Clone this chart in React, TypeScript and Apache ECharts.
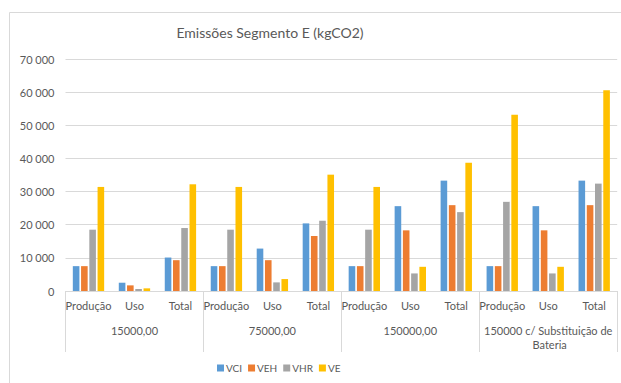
import React, { useEffect, useRef } from "react";
import * as echarts from "echarts";

// Distance scenarios (km) and the life-cycle stages shown inside each one
const scenarios = ["15000,00", "75000,00", "150000,00", "150000 c/ Substituição de Bateria"];
const stages = ["Produção", "Uso", "Total"];

// Emissions in kgCO2, ordered scenario by scenario, stage by stage
const vci = [7500, 2500, 10100, 7500, 12800, 20400, 7500, 25600, 33300, 7500, 25600, 33300];
const veh = [7500, 1700, 9300, 7500, 9300, 16600, 7500, 18300, 25900, 7500, 18300, 25900];
const vhr = [18500, 600, 19000, 18500, 2600, 21200, 18500, 5300, 23800, 26900, 5300, 32400];
const ve = [31400, 800, 32200, 31400, 3600, 35100, 31400, 7300, 38700, 53200, 7300, 60600];

const seriesNames = ["VCI", "VEH", "VHR", "VE"];
const seriesColors = ["#5B9BD5", "#ED7D31", "#A5A5A5", "#FFC000"];

const yTicks = { min: 0, max: 70000, interval: 10000 };

const FONT = "Lato, 'Liberation Sans', sans-serif";
const TEXT = "#595959";
const LINE = "#D9D9D9";

function fmt(v: number): string {
  return String(v).replace(/\B(?=(\d{3})+(?!\d))/g, " ");
}

export default function App() {
  const ref = useRef<HTMLDivElement>(null);

  useEffect(() => {
    if (!ref.current) return;
    const chart = echarts.init(ref.current, undefined, { renderer: "svg" });
    const xCats: string[] = [];
    scenarios.forEach(() => stages.forEach((s) => xCats.push(s)));
    const values = [vci, veh, vhr, ve];

    chart.setOption({
      animation: false,
      backgroundColor: "#fff",
      textStyle: { fontFamily: FONT },
      title: {
        text: "Emissões Segmento E (kgCO2)",
        left: 265,
        textAlign: "center",
        top: 20,
        textStyle: { fontFamily: FONT, fontSize: 14, fontWeight: "normal", color: TEXT },
      },
      graphic: [
        {
          type: "rect",
          shape: { x: 9.5, y: 12.5, width: 700, height: 420 },
          style: { fill: "none", stroke: LINE, lineWidth: 1 },
          silent: true,
        },
      ],
      legend: {
        data: seriesNames,
        left: 212,
        top: 358,
        itemWidth: 7,
        itemHeight: 7,
        itemGap: 6,
        icon: "rect",
        textStyle: { fontFamily: FONT, fontSize: 10, color: TEXT, padding: [0, 0, 0, -3] },
      },
      grid: { left: 65.5, right: 2, top: 59, bottom: 92, containLabel: false },
      xAxis: [
        {
          type: "category",
          data: xCats,
          position: "bottom",
          axisLine: { show: true, lineStyle: { color: LINE } },
          axisTick: { show: false },
          axisLabel: { interval: 0, margin: 9, fontFamily: FONT, fontSize: 11, color: TEXT },
        },
        {
          type: "category",
          data: scenarios,
          position: "bottom",
          axisLine: { show: false },
          axisTick: { show: true, length: 61, interval: 0, lineStyle: { color: LINE } },
          axisLabel: {
            interval: 0,
            margin: 32,
            fontFamily: FONT,
            fontSize: 11,
            color: TEXT,
            width: 140,
            overflow: "break",
            lineHeight: 14,
          },
        },
      ],
      yAxis: {
        type: "value",
        min: yTicks.min,
        max: yTicks.max,
        interval: yTicks.interval,
        axisLine: { show: false },
        axisTick: { show: false },
        splitLine: { lineStyle: { color: LINE } },
        axisLabel: { margin: 11, fontFamily: FONT, fontSize: 11, color: TEXT, formatter: fmt },
      },
      series: seriesNames.map((name, i) => ({
        name,
        type: "bar",
        xAxisIndex: 0,
        data: values[i],
        barWidth: 6.6,
        barGap: "25%",
        itemStyle: { color: seriesColors[i] },
      })),
    });

    return () => chart.dispose();
  }, []);

  return (
    <div
      ref={ref}
      style={{ position: "fixed", left: 0, top: 0, width: 621, height: 383, background: "#fff" }}
    />
  );
}
